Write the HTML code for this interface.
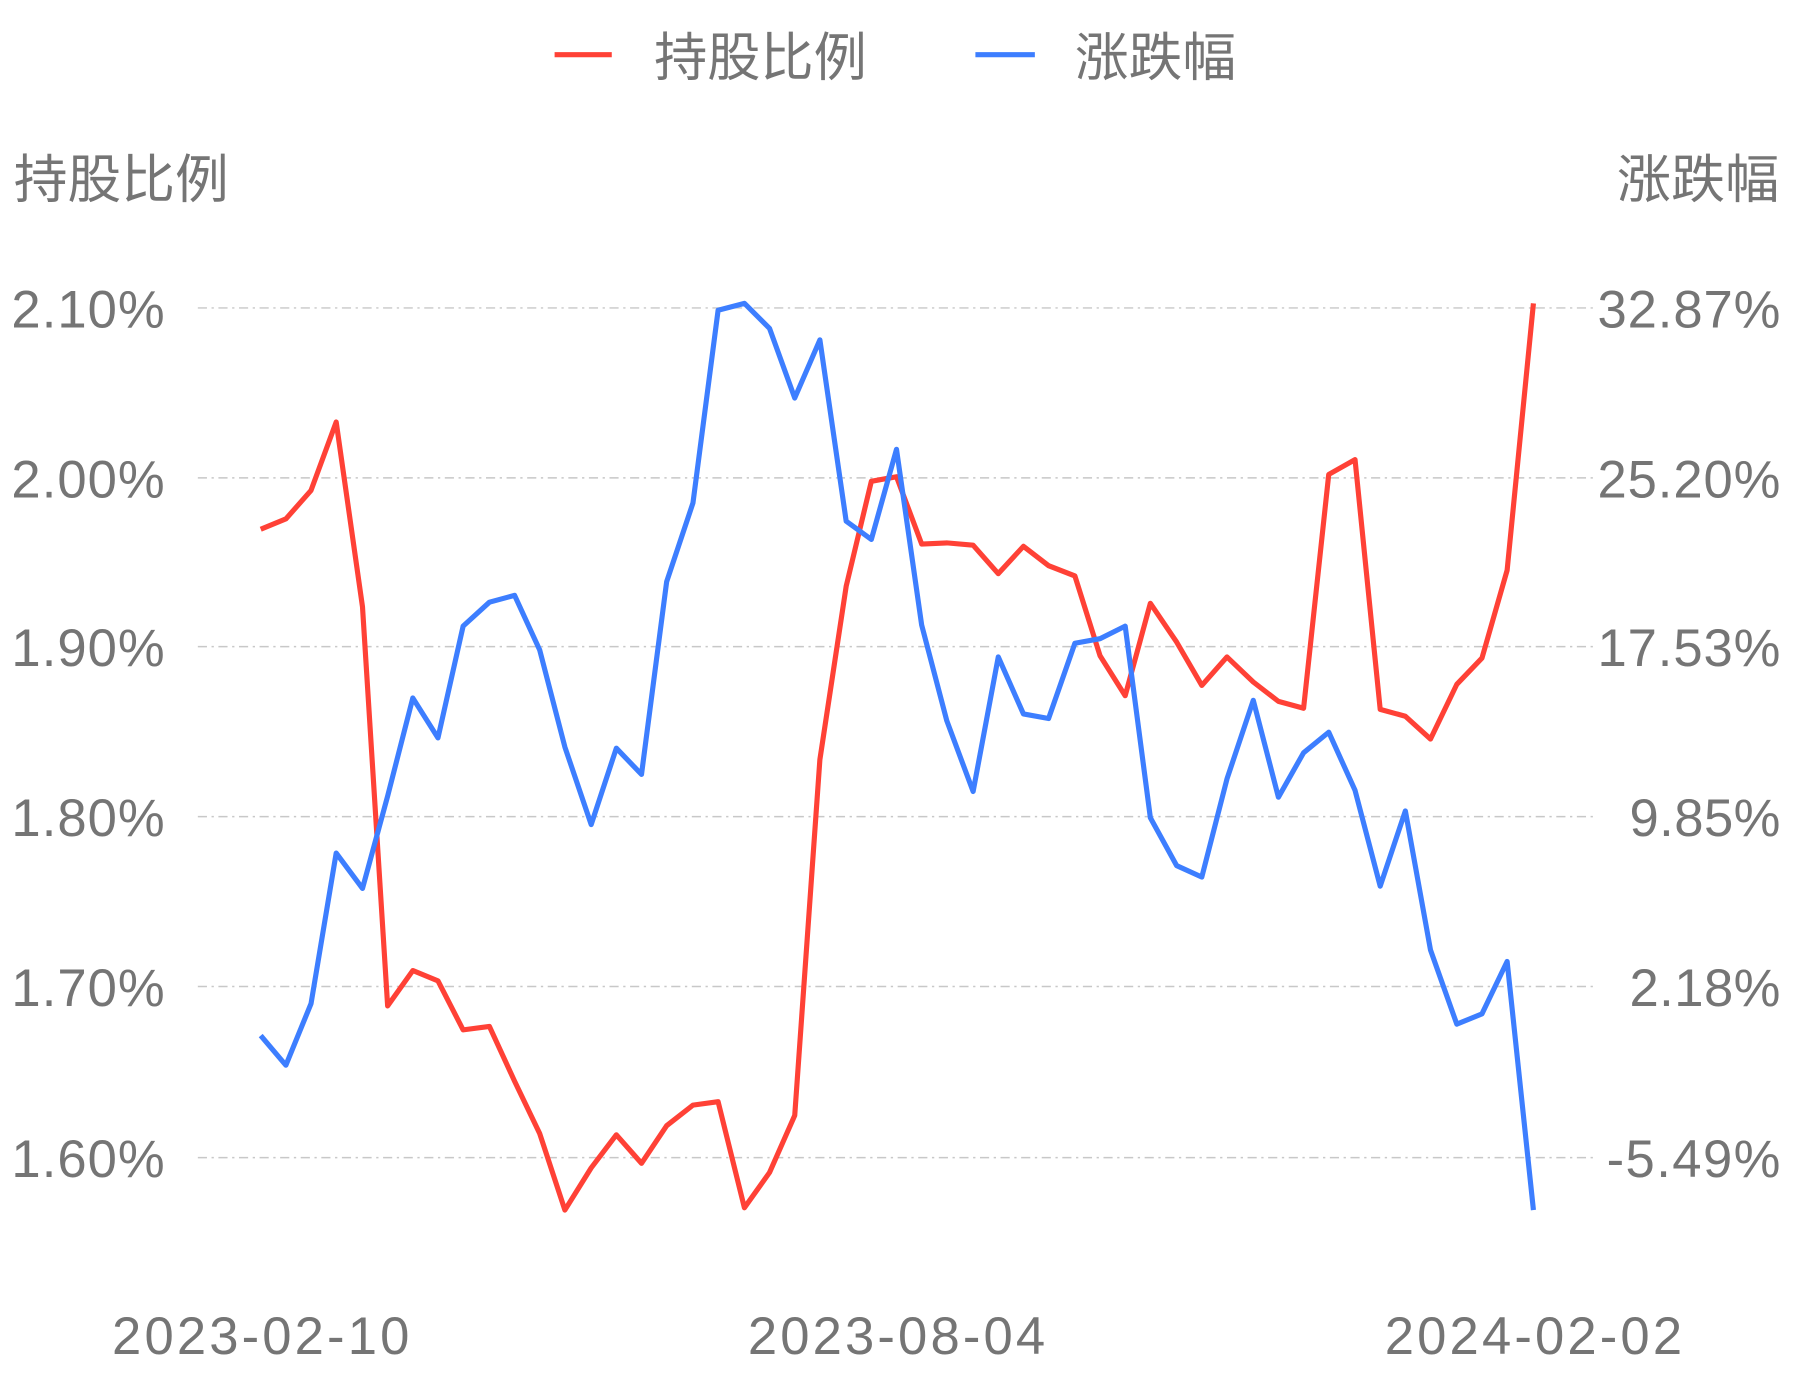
<!DOCTYPE html>
<html><head><meta charset="utf-8"><style>
html,body{margin:0;padding:0;background:#fff;}
svg{display:block;}
text{font-family:"Liberation Sans","Noto Sans CJK SC",sans-serif;fill:#757575;}
</style></head><body>
<svg width="1793" height="1380" viewBox="0 0 1568 1210" preserveAspectRatio="none" xmlns="http://www.w3.org/2000/svg">
<g stroke="#c8c8c8" stroke-width="1.3" stroke-dasharray="8,4,2,4">
<line x1="173" y1="270" x2="1397" y2="270"/>
<line x1="173" y1="419" x2="1397" y2="419"/>
<line x1="173" y1="567" x2="1397" y2="567"/>
<line x1="173" y1="716" x2="1397" y2="716"/>
<line x1="173" y1="865" x2="1397" y2="865"/>
<line x1="173" y1="1015" x2="1397" y2="1015"/>
</g>
<g font-size="46" lengthAdjust="spacingAndGlyphs">
<text x="10" y="287" textLength="134">2.10%</text>
<text x="10" y="436" textLength="134">2.00%</text>
<text x="10" y="584" textLength="134">1.90%</text>
<text x="10" y="733" textLength="134">1.80%</text>
<text x="10" y="882" textLength="134">1.70%</text>
<text x="10" y="1032" textLength="134">1.60%</text>
<text x="1397" y="287" textLength="160">32.87%</text>
<text x="1397" y="436" textLength="160">25.20%</text>
<text x="1397" y="584" textLength="160">17.53%</text>
<text x="1425" y="733" textLength="132">9.85%</text>
<text x="1425" y="882" textLength="132">2.18%</text>
<text x="1405" y="1032" textLength="152">-5.49%</text>
</g>
<text x="12" y="173" font-size="46" textLength="188" lengthAdjust="spacingAndGlyphs">持股比例</text>
<text x="1414" y="173" font-size="46" textLength="142" lengthAdjust="spacingAndGlyphs">涨跌幅</text>
<g font-size="46" lengthAdjust="spacingAndGlyphs">
<text x="98" y="1187" textLength="260">2023-02-10</text>
<text x="654" y="1187" textLength="260">2023-08-04</text>
<text x="1211" y="1187" textLength="260">2024-02-02</text>
</g>
<line x1="485" y1="48" x2="535" y2="48" stroke="#ff4136" stroke-width="4.5"/>
<text x="572" y="66" font-size="46" textLength="186" lengthAdjust="spacingAndGlyphs">持股比例</text>
<line x1="853" y1="48" x2="905" y2="48" stroke="#3d7eff" stroke-width="4.5"/>
<text x="940" y="66" font-size="46" textLength="141" lengthAdjust="spacingAndGlyphs">涨跌幅</text>
<polyline fill="none" stroke="#ff4136" stroke-width="4.5" stroke-linejoin="round" points="228,464 250,455 272,430 294,370 317,532 339,882 361,851 383,860 405,903 428,900 450,948 472,994 494,1061 517,1024 539,995 561,1020 583,987 606,969 628,966 651,1059 673,1028 695,978 717,666 740,514 762,422 784,418 806,477 828,476 851,478 873,503 895,479 917,496 940,505 962,575 984,610 1006,529 1029,563 1051,601 1073,576 1096,598 1118,615 1140,621 1162,416 1185,403 1207,622 1229,628 1251,648 1274,600 1296,577 1318,500 1341,266"/>
<polyline fill="none" stroke="#3d7eff" stroke-width="4.5" stroke-linejoin="round" points="228,908 250,934 272,880 294,748 317,779 339,698 361,612 383,647 405,549 428,528 450,522 472,570 494,655 517,723 539,656 561,679 583,510 606,441 628,272 651,266 673,288 695,349 717,298 740,457 762,473 784,394 806,548 828,632 851,694 873,576 895,626 917,630 940,564 962,560 984,549 1006,717 1029,759 1051,769 1073,683 1096,614 1118,699 1140,660 1162,642 1185,693 1207,777 1229,711 1251,833 1274,898 1296,889 1318,843 1341,1061"/>
</svg>
</body></html>
